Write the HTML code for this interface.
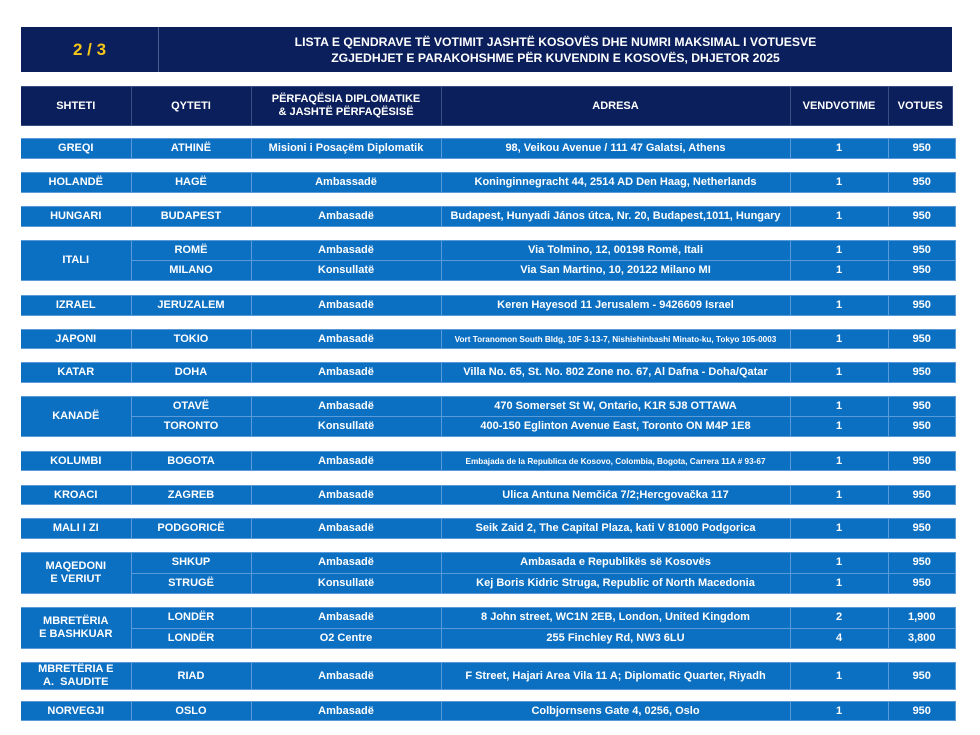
<!DOCTYPE html>
<html><head><meta charset="utf-8"><style>
body{margin:0;width:980px;height:735px;background:#fff;position:relative;overflow:hidden;font-family:"Liberation Sans",Arial,sans-serif;font-weight:bold;color:#fff}
table{position:absolute;left:21px;border-collapse:collapse;table-layout:fixed;width:935px}
td{background:#0b6fc2;border:1px solid #5a9ad8;text-align:center;font-size:11px;padding:0;line-height:13px;white-space:nowrap;overflow:hidden}
table tr td:first-child{border-left:none}
.h td{background:#0b1f5c;border-color:#3a4d85;font-size:11px}
.s{font-size:8.2px}
#t{position:absolute;left:21px;top:27px;width:931px;height:45px;background:#0b1f5c}
#t .n{position:absolute;left:0;top:0;width:137px;height:45px;line-height:45px;text-align:center;color:#f5c518;font-size:17px;border-right:1px solid #4a5c90}
#t .tt{position:absolute;left:138px;right:0;top:7px;text-align:center;font-size:12.2px;line-height:16px}
</style></head><body>
<div id="t"><div class="n">2 / 3</div><div class="tt">LISTA E QENDRAVE TË VOTIMIT JASHTË KOSOVËS DHE NUMRI MAKSIMAL I VOTUESVE<br>ZGJEDHJET E PARAKOHSHME PËR KUVENDIN E KOSOVËS, DHJETOR 2025</div></div>
<table class="h" style="top:86px;height:40px;width:932px"><colgroup><col style="width:110px"><col style="width:120px"><col style="width:190px"><col style="width:349px"><col style="width:98px"><col></colgroup>
<tr><td>SHTETI</td><td>QYTETI</td><td>PËRFAQËSIA DIPLOMATIKE<br>&amp; JASHTË PËRFAQËSISË</td><td>ADRESA</td><td>VENDVOTIME</td><td>VOTUES</td></tr></table>

<table style="top:138px;height:21px"><colgroup><col style="width:110px"><col style="width:120px"><col style="width:190px"><col style="width:349px"><col style="width:98px"><col></colgroup>
<tr><td>GREQI</td><td>ATHINË</td><td>Misioni i Posaçëm Diplomatik</td><td>98, Veikou Avenue / 111 47 Galatsi, Athens</td><td>1</td><td>950</td></tr></table>

<table style="top:172px;height:21px"><colgroup><col style="width:110px"><col style="width:120px"><col style="width:190px"><col style="width:349px"><col style="width:98px"><col></colgroup>
<tr><td>HOLANDË</td><td>HAGË</td><td>Ambassadë</td><td>Koninginnegracht 44, 2514 AD Den Haag, Netherlands</td><td>1</td><td>950</td></tr></table>

<table style="top:206px;height:21px"><colgroup><col style="width:110px"><col style="width:120px"><col style="width:190px"><col style="width:349px"><col style="width:98px"><col></colgroup>
<tr><td>HUNGARI</td><td>BUDAPEST</td><td>Ambasadë</td><td>Budapest, Hunyadi János útca, Nr. 20, Budapest,1011, Hungary</td><td>1</td><td>950</td></tr></table>

<table style="top:240px;height:41px"><colgroup><col style="width:110px"><col style="width:120px"><col style="width:190px"><col style="width:349px"><col style="width:98px"><col></colgroup>
<tr><td rowspan="2">ITALI</td><td>ROMË</td><td>Ambasadë</td><td>Via Tolmino, 12, 00198 Romë, Itali</td><td>1</td><td>950</td></tr>
<tr><td>MILANO</td><td>Konsullatë</td><td>Via San Martino, 10, 20122 Milano MI</td><td>1</td><td>950</td></tr></table>

<table style="top:295px;height:21px"><colgroup><col style="width:110px"><col style="width:120px"><col style="width:190px"><col style="width:349px"><col style="width:98px"><col></colgroup>
<tr><td>IZRAEL</td><td>JERUZALEM</td><td>Ambasadë</td><td>Keren Hayesod 11 Jerusalem - 9426609 Israel</td><td>1</td><td>950</td></tr></table>

<table style="top:329px;height:20px"><colgroup><col style="width:110px"><col style="width:120px"><col style="width:190px"><col style="width:349px"><col style="width:98px"><col></colgroup>
<tr><td>JAPONI</td><td>TOKIO</td><td>Ambasadë</td><td class="s">Vort Toranomon South Bldg, 10F 3-13-7, Nishishinbashi Minato-ku, Tokyo 105-0003</td><td>1</td><td>950</td></tr></table>

<table style="top:362px;height:21px"><colgroup><col style="width:110px"><col style="width:120px"><col style="width:190px"><col style="width:349px"><col style="width:98px"><col></colgroup>
<tr><td>KATAR</td><td>DOHA</td><td>Ambasadë</td><td>Villa No. 65, St. No. 802 Zone no. 67, Al Dafna - Doha/Qatar</td><td>1</td><td>950</td></tr></table>

<table style="top:396px;height:41px"><colgroup><col style="width:110px"><col style="width:120px"><col style="width:190px"><col style="width:349px"><col style="width:98px"><col></colgroup>
<tr><td rowspan="2">KANADË</td><td>OTAVË</td><td>Ambasadë</td><td>470 Somerset St W, Ontario, K1R 5J8 OTTAWA</td><td>1</td><td>950</td></tr>
<tr><td>TORONTO</td><td>Konsullatë</td><td>400-150 Eglinton Avenue East, Toronto ON M4P 1E8</td><td>1</td><td>950</td></tr></table>

<table style="top:451px;height:20px"><colgroup><col style="width:110px"><col style="width:120px"><col style="width:190px"><col style="width:349px"><col style="width:98px"><col></colgroup>
<tr><td>KOLUMBI</td><td>BOGOTA</td><td>Ambasadë</td><td class="s">Embajada de la Republica de Kosovo, Colombia, Bogota, Carrera 11A # 93-67</td><td>1</td><td>950</td></tr></table>

<table style="top:485px;height:20px"><colgroup><col style="width:110px"><col style="width:120px"><col style="width:190px"><col style="width:349px"><col style="width:98px"><col></colgroup>
<tr><td>KROACI</td><td>ZAGREB</td><td>Ambasadë</td><td>Ulica Antuna Nemčića 7/2;Hercgovačka 117</td><td>1</td><td>950</td></tr></table>

<table style="top:518px;height:21px"><colgroup><col style="width:110px"><col style="width:120px"><col style="width:190px"><col style="width:349px"><col style="width:98px"><col></colgroup>
<tr><td>MALI I ZI</td><td>PODGORICË</td><td>Ambasadë</td><td>Seik Zaid 2, The Capital Plaza, kati V 81000 Podgorica</td><td>1</td><td>950</td></tr></table>

<table style="top:552px;height:42px"><colgroup><col style="width:110px"><col style="width:120px"><col style="width:190px"><col style="width:349px"><col style="width:98px"><col></colgroup>
<tr><td rowspan="2">MAQEDONI<br>E VERIUT</td><td>SHKUP</td><td>Ambasadë</td><td>Ambasada e Republikës së Kosovës</td><td>1</td><td>950</td></tr>
<tr><td>STRUGË</td><td>Konsullatë</td><td>Kej Boris Kidric Struga, Republic of North Macedonia</td><td>1</td><td>950</td></tr></table>

<table style="top:607px;height:42px"><colgroup><col style="width:110px"><col style="width:120px"><col style="width:190px"><col style="width:349px"><col style="width:98px"><col></colgroup>
<tr><td rowspan="2">MBRETËRIA<br>E BASHKUAR</td><td>LONDËR</td><td>Ambasadë</td><td>8 John street, WC1N 2EB, London, United Kingdom</td><td>2</td><td>1,900</td></tr>
<tr><td>LONDËR</td><td>O2 Centre</td><td>255 Finchley Rd, NW3 6LU</td><td>4</td><td>3,800</td></tr></table>

<table style="top:662px;height:27px"><colgroup><col style="width:110px"><col style="width:120px"><col style="width:190px"><col style="width:349px"><col style="width:98px"><col></colgroup>
<tr><td>MBRETËRIA E<br>A.&nbsp; SAUDITE</td><td>RIAD</td><td>Ambasadë</td><td>F Street, Hajari Area Vila 11 A; Diplomatic Quarter, Riyadh</td><td>1</td><td>950</td></tr></table>

<table style="top:701px;height:20px"><colgroup><col style="width:110px"><col style="width:120px"><col style="width:190px"><col style="width:349px"><col style="width:98px"><col></colgroup>
<tr><td>NORVEGJI</td><td>OSLO</td><td>Ambasadë</td><td>Colbjornsens Gate 4, 0256, Oslo</td><td>1</td><td>950</td></tr></table>
</body></html>
